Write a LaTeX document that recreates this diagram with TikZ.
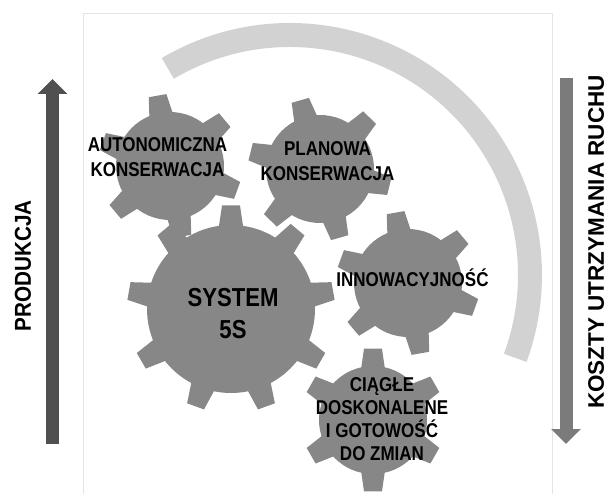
\documentclass[tikz,border=0pt]{standalone}
\usepackage{fontspec}
\setmainfont{Liberation Sans}
\newfontfamily\gearfont{Liberation Sans}[FakeStretch=0.85]
\usetikzlibrary{arrows.meta}

\definecolor{gearcol}{HTML}{878787}
\definecolor{arccol}{HTML}{D2D2D2}
\definecolor{upcol}{HTML}{505050}
\definecolor{downcol}{HTML}{7B7B7B}
\definecolor{framecol}{HTML}{E4E4E4}

\tikzset{
  gtext/.style={align=center,text=black,font=\gearfont\bfseries\fontsize{20}{25}\selectfont},
  stext/.style={rotate=90,text=black,inner sep=1pt,font=\bfseries\fontsize{22.5}{22.5}\selectfont},
  bigarrow/.style={line width=13pt,-{Triangle[length=15pt,width=29pt]}}
}

\newcommand{\gear}[6]{%
  \begin{scope}[shift={#2}]
    \coordinate (#1) at (0,0);
    \fill[gearcol] (0,0) circle (#5);
    \foreach \k in {1,...,#3}{
      \pgfmathsetmacro{\ang}{#4+360/#3*(\k-1)}
      \pgfmathsetmacro{\db}{deg(13/#5)}
      \pgfmathsetmacro{\dt}{deg(9/#6)}
      \fill[gearcol] (\ang-\db:#5-3) -- (\ang-\dt:#6) -- (\ang+\dt:#6) -- (\ang+\db:#5-3) -- cycle;
    }
  \end{scope}}

\begin{document}
\begin{tikzpicture}[x=1pt,y=1pt]
  \useasboundingbox (0,0) rectangle (610,493);
  \draw[framecol,line width=1pt] (83,-2) -- (83,479) -- (552,479) -- (552,-2);

  \coordinate (ac) at (290,218);
  \draw[arccol,line width=24pt] ([shift={(120.6:240)}]ac) arc[start angle=120.6,end angle=-20.2,radius=240];

  \gear{g1}{(170,327)}{6}{100}{54}{72}
  \gear{g2}{(320,324)}{6}{106}{54}{72}
  \gear{g4}{(408,210)}{6}{100}{54}{72}
  \gear{g5}{(373,73)}{6}{90}{54}{72}
  \gear{g0}{(231,184)}{9}{90}{84}{104}

  \node[gtext] (t1) at (157.5,336) {AUTONOMICZNA\\KONSERWACJA};
  \node[gtext] (t2) at (327.5,332) {PLANOWA\\KONSERWACJA};
  \node[gtext,anchor=base] (t4) at (412.5,206) {INNOWACYJNOŚĆ};
  \node[gtext,font=\gearfont\bfseries\fontsize{20}{23}\selectfont] (t5) at (382,73.5) {CIĄGŁE\\DOSKONALENE\\I GOTOWOŚĆ\\DO ZMIAN};
  \node[gtext,font=\gearfont\bfseries\fontsize{26}{32}\selectfont] (t0) at (233,179) {SYSTEM\\5S};

  \coordinate (pa) at (52.5,49);
  \coordinate (pb) at (52.5,414);
  \draw[bigarrow,upcol] (pa) -- (pb);
  \coordinate (ka) at (566,415);
  \coordinate (kb) at (566,49);
  \draw[bigarrow,downcol] (ka) -- (kb);

  \node[stext,font=\bfseries\fontsize{23}{23}\selectfont\addfontfeatures{FakeStretch=0.9}] (prod) at (23,227) {PRODUKCJA};
  \node[stext] (koszt) at (596,251) {KOSZTY UTRZYMANIA RUCHU};
\end{tikzpicture}
\end{document}
